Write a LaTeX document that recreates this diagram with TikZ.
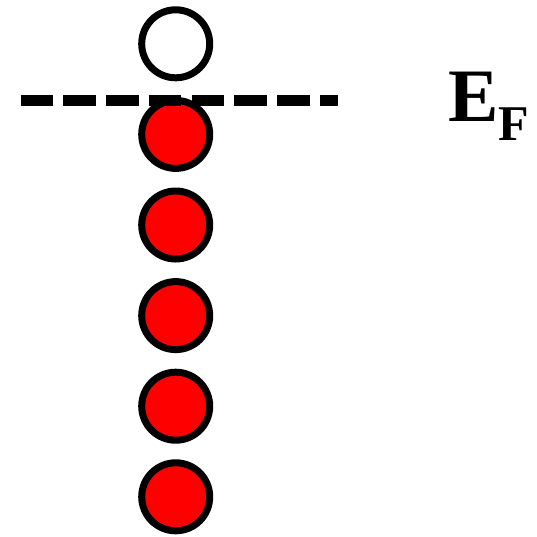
\documentclass[tikz,border=0pt]{standalone}
\usepackage{fontspec}
\setmainfont{Liberation Serif}
\begin{document}
\begin{tikzpicture}[x=1pt,y=-1pt,
  level/.style={circle,draw=black,line width=7pt,minimum size=68pt,inner sep=0pt},
  filled/.style={level,fill=red},
  empty/.style={level,fill=white},
  fermi/.style={draw=black,line width=10.5pt,dash pattern=on 32.5pt off 10.25pt},
  lbl/.style={anchor=base west,inner sep=0pt,outer sep=0pt}]
\useasboundingbox (0,0) rectangle (537,536);
\node[empty]  (c0) at (175.7,43.8) {};
\node[filled] (c1) at (175.7,134.4) {};
\node[filled] (c2) at (175.7,225.0) {};
\node[filled] (c3) at (175.7,315.6) {};
\node[filled] (c4) at (175.7,406.2) {};
\node[filled] (c5) at (175.7,496.8) {};
\coordinate (fl) at (20.7,100.3);
\coordinate (fr) at (338.3,100.3);
\draw[fermi] (fl) -- (fr);
\node[lbl] (e) at (448.8,121.7) {\fontsize{75.5}{75.5}\selectfont\bfseries E};
\node[lbl] (f) at (498.2,140) {\fontsize{50}{50}\selectfont\bfseries F};
\end{tikzpicture}
\end{document}
